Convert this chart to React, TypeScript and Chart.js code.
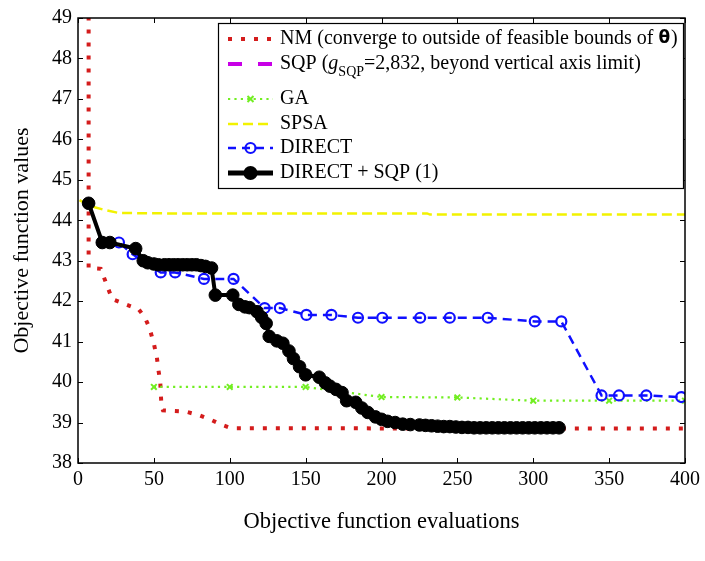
import React, { useEffect, useRef } from 'react';
import { Chart, registerables } from 'chart.js';

Chart.register(...registerables);

// ---- data ----
const nmX = [7, 7, 15, 22.5, 40, 44, 47, 50, 52, 53, 54.2, 55, 56, 71, 80, 88, 95, 101, 150, 250, 400];
const nmY = [50, 42.82, 42.8, 42.05, 41.8, 41.6, 41.35, 40.95, 40.6, 40.3, 40.0, 39.4, 39.3, 39.27, 39.18, 39.06, 38.94, 38.86, 38.86, 38.85, 38.85];

const gaX = [50, 100, 150, 200, 250, 300, 350, 400];
const gaY = [39.88, 39.88, 39.88, 39.63, 39.62, 39.54, 39.54, 39.54];

const spsaX = [1, 8, 17, 27, 60, 230, 232, 400];
const spsaY = [44.5, 44.35, 44.26, 44.18, 44.17, 44.17, 44.14, 44.14];

const directX = [7, 16, 27, 36, 54.5, 64, 83, 102.5, 123, 133, 150.5, 167, 184.5, 200.5, 225.5, 245, 270, 301, 318.5, 345, 356.5, 374.5, 397.5];
const directY = [44.42, 43.45, 43.45, 43.16, 42.71, 42.71, 42.55, 42.55, 41.83, 41.83, 41.66, 41.66, 41.59, 41.59, 41.59, 41.59, 41.59, 41.5, 41.5, 39.67, 39.67, 39.67, 39.63];

const dsX = [7, 16, 21, 38, 43, 46, 50, 53, 57, 60, 63, 66, 69, 72, 75, 78, 81, 84, 88, 90.5, 102, 106, 110, 113, 118, 121, 124, 126, 131, 135, 139, 142, 146, 150, 159, 163, 166, 170, 174, 177, 183, 187, 191, 196, 200, 204, 209, 214, 219, 225, 229, 233, 237, 241, 245, 249, 253, 257, 261, 265, 269, 273, 277, 281, 285, 289, 293, 297, 301, 305, 309, 313, 317];
const dsY = [44.42, 43.45, 43.45, 43.3, 43.0, 42.95, 42.92, 42.9, 42.9, 42.9, 42.9, 42.9, 42.9, 42.9, 42.9, 42.9, 42.88, 42.86, 42.82, 42.15, 42.15, 41.92, 41.86, 41.84, 41.74, 41.6, 41.45, 41.13, 41.02, 40.96, 40.77, 40.58, 40.38, 40.18, 40.12, 39.98, 39.9, 39.82, 39.74, 39.54, 39.5, 39.36, 39.25, 39.14, 39.08, 39.03, 39.0, 38.96, 38.95, 38.94, 38.93, 38.92, 38.91, 38.9, 38.9, 38.89, 38.88, 38.88, 38.87, 38.87, 38.87, 38.87, 38.87, 38.87, 38.87, 38.87, 38.87, 38.87, 38.87, 38.87, 38.87, 38.87, 38.87];

const xTicks = [0, 50, 100, 150, 200, 250, 300, 350, 400];
const yTicks = [38, 39, 40, 41, 42, 43, 44, 45, 46, 47, 48, 49];

const RED = '#d41c1c';
const MAGENTA = '#c800e6';
const GREEN = '#72ee22';
const YELLOW = '#f2f200';
const BLUE = '#1010ff';
const BLACK = '#000000';
const SERIF = '"Liberation Serif", "Times New Roman", serif';

const pts = (xs: number[], ys: number[]) => xs.map((x, i) => ({ x, y: ys[i] }));

const framePlugin = {
  id: 'frameTicks',
  afterDatasetsDraw(chart: any) {
    const { ctx, chartArea } = chart;
    const { left, right, top, bottom } = chartArea;
    const xs = chart.scales.x;
    const ys = chart.scales.y;
    ctx.save();
    ctx.strokeStyle = '#000';
    ctx.lineWidth = 1;
    ctx.beginPath();
    xTicks.forEach((v) => {
      const px = Math.round(xs.getPixelForValue(v)) + 0.5;
      ctx.moveTo(px, bottom);
      ctx.lineTo(px, bottom - 5);
      ctx.moveTo(px, top);
      ctx.lineTo(px, top + 5);
    });
    yTicks.forEach((v) => {
      const py = Math.round(ys.getPixelForValue(v)) + 0.5;
      ctx.moveTo(left, py);
      ctx.lineTo(left + 5, py);
      ctx.moveTo(right, py);
      ctx.lineTo(right - 5, py);
    });
    ctx.stroke();
    ctx.lineWidth = 1.5;
    ctx.strokeRect(left, top, right - left, bottom - top);
    ctx.restore();
  },
};

const legendPlugin = {
  id: 'customLegend',
  afterDraw(chart: any) {
    const ctx = chart.ctx as CanvasRenderingContext2D;
    ctx.save();
    const bx = 218, by = 23, bw = 465, bh = 165;
    ctx.fillStyle = '#fff';
    ctx.fillRect(bx, by, bw, bh);
    ctx.strokeStyle = '#000';
    ctx.lineWidth = 1.2;
    ctx.strokeRect(bx + 0.5, by + 0.5, bw, bh);

    const x0 = 228, x1 = 273, tx = 280;
    const rows = [39, 64, 99, 124, 148, 173];
    const font = `20px ${SERIF}`;
    ctx.textBaseline = 'middle';
    ctx.textAlign = 'left';

    const sample = (y: number, color: string, w: number, dash: number[]) => {
      ctx.beginPath();
      ctx.strokeStyle = color;
      ctx.lineWidth = w;
      ctx.setLineDash(dash);
      ctx.moveTo(x0, y);
      ctx.lineTo(x1, y);
      ctx.stroke();
      ctx.setLineDash([]);
    };
    const mid = (x0 + x1) / 2;

    // NM
    sample(rows[0], RED, 4, [4, 9]);
    ctx.fillStyle = '#000';
    ctx.font = font;
    let cx = tx;
    const t1 = 'NM (converge to outside of feasible bounds of ';
    ctx.fillText(t1, cx, rows[0]);
    cx += ctx.measureText(t1).width;
    ctx.font = `bold 17px "DejaVu Sans", sans-serif`;
    ctx.fillText('\u03b8', cx, rows[0]);
    cx += ctx.measureText('\u03b8').width + 1;
    ctx.font = font;
    ctx.fillText(')', cx, rows[0]);

    // SQP
    sample(rows[1], MAGENTA, 4, [14, 16]);
    cx = tx;
    ctx.font = font;
    ctx.fillText('SQP (', cx, rows[1]);
    cx += ctx.measureText('SQP (').width;
    ctx.font = `italic 20px ${SERIF}`;
    ctx.fillText('g', cx, rows[1]);
    cx += ctx.measureText('g').width;
    ctx.font = `14px ${SERIF}`;
    ctx.fillText('SQP', cx, rows[1] + 8);
    cx += ctx.measureText('SQP').width;
    ctx.font = font;
    ctx.fillText('=2,832, beyond vertical axis limit)', cx, rows[1]);

    // GA
    sample(rows[2], GREEN, 2.2, [2.2, 4.2]);
    ctx.strokeStyle = GREEN;
    ctx.lineWidth = 2;
    ctx.beginPath();
    ctx.moveTo(mid - 3, rows[2] - 3); ctx.lineTo(mid + 3, rows[2] + 3);
    ctx.moveTo(mid - 3, rows[2] + 3); ctx.lineTo(mid + 3, rows[2] - 3);
    ctx.stroke();
    ctx.fillText('GA', tx, rows[2]);

    // SPSA
    sample(rows[3], YELLOW, 2.5, [10, 5]);
    ctx.fillText('SPSA', tx, rows[3]);

    // DIRECT
    sample(rows[4], BLUE, 2.5, [8, 6]);
    ctx.beginPath();
    ctx.strokeStyle = BLUE;
    ctx.lineWidth = 2.2;
    ctx.arc(mid, rows[4], 5, 0, Math.PI * 2);
    ctx.stroke();
    ctx.fillText('DIRECT', tx, rows[4]);

    // DIRECT + SQP
    sample(rows[5], BLACK, 5, []);
    ctx.beginPath();
    ctx.fillStyle = '#000';
    ctx.arc(mid, rows[5], 7, 0, Math.PI * 2);
    ctx.fill();
    ctx.fillText('DIRECT + SQP (1)', tx, rows[5]);

    ctx.restore();
  },
};

export default function App() {
  const ref = useRef<HTMLCanvasElement | null>(null);
  useEffect(() => {
    if (!ref.current) return;
    const chart = new Chart(ref.current, {
      type: 'line',
      data: {
        datasets: [
          {
            label: 'NM (converge to outside of feasible bounds of θ)',
            data: pts(nmX, nmY),
            borderColor: RED,
            borderWidth: 4,
            borderDash: [4, 9],
            pointRadius: 0,
            fill: false,
            tension: 0,
            order: 6,
          },
          {
            label: 'SQP (gSQP=2,832, beyond vertical axis limit)',
            data: [],
            borderColor: MAGENTA,
            borderWidth: 4,
            borderDash: [14, 16],
            pointRadius: 0,
            order: 5,
          },
          {
            label: 'GA',
            data: pts(gaX, gaY),
            borderColor: GREEN,
            borderWidth: 2.2,
            borderDash: [2.2, 4.2],
            pointStyle: 'crossRot',
            pointRadius: 4,
            pointBorderWidth: 2,
            pointBorderColor: GREEN,
            order: 4,
          },
          {
            label: 'SPSA',
            data: pts(spsaX, spsaY),
            borderColor: YELLOW,
            borderWidth: 2.5,
            borderDash: [10, 5],
            pointRadius: 0,
            order: 3,
          },
          {
            label: 'DIRECT',
            data: pts(directX, directY),
            borderColor: BLUE,
            borderWidth: 2.5,
            borderDash: [9, 6],
            pointRadius: 5,
            pointBorderWidth: 2.2,
            pointBorderColor: BLUE,
            pointBackgroundColor: 'rgba(0,0,0,0)',
            order: 2,
          },
          {
            label: 'DIRECT + SQP (1)',
            data: pts(dsX, dsY),
            borderColor: BLACK,
            borderWidth: 4,
            pointRadius: 6.3,
            pointBorderWidth: 1,
            pointBorderColor: BLACK,
            pointBackgroundColor: BLACK,
            order: 1,
          },
        ],
      },
      options: {
        animation: false,
        responsive: false,
        devicePixelRatio: 1,
        layout: { padding: { top: 13, right: 17, left: 0, bottom: 0 } },
        plugins: {
          legend: { display: false },
          tooltip: { enabled: false },
        },
        scales: {
          x: {
            type: 'linear',
            min: 0,
            max: 400,
            afterBuildTicks: (axis: any) => {
              axis.ticks = xTicks.map((v) => ({ value: v }));
            },
            afterFit: (axis: any) => {
              axis.height = 98;
            },
            grid: { display: false, drawTicks: false },
            border: { display: false },
            ticks: {
              padding: 5,
              color: '#000',
              font: { family: SERIF, size: 20 },
              maxRotation: 0,
              autoSkip: false,
            },
            title: {
              display: true,
              text: 'Objective function evaluations',
              color: '#000',
              font: { family: SERIF, size: 22.5 },
              padding: { bottom: 25 },
            },
          },
          y: {
            type: 'linear',
            min: 38,
            max: 49,
            afterBuildTicks: (axis: any) => {
              axis.ticks = yTicks.map((v) => ({ value: v }));
            },
            afterFit: (axis: any) => {
              axis.width = 78;
            },
            grid: { display: false, drawTicks: false },
            border: { display: false },
            ticks: {
              padding: 6,
              color: '#000',
              font: { family: SERIF, size: 20 },
              autoSkip: false,
            },
            title: {
              display: true,
              text: 'Objective function values',
              color: '#000',
              font: { family: SERIF, size: 22 },
              padding: { top: 9 },
            },
          },
        },
      },
      plugins: [framePlugin, legendPlugin],
    });
    return () => chart.destroy();
  }, []);

  return (
    <div style={{ position: 'absolute', left: 0, top: 0, width: 705, height: 561, background: '#fff' }}>
      <canvas ref={ref} width={705} height={561} style={{ display: 'block' }} />
    </div>
  );
}
